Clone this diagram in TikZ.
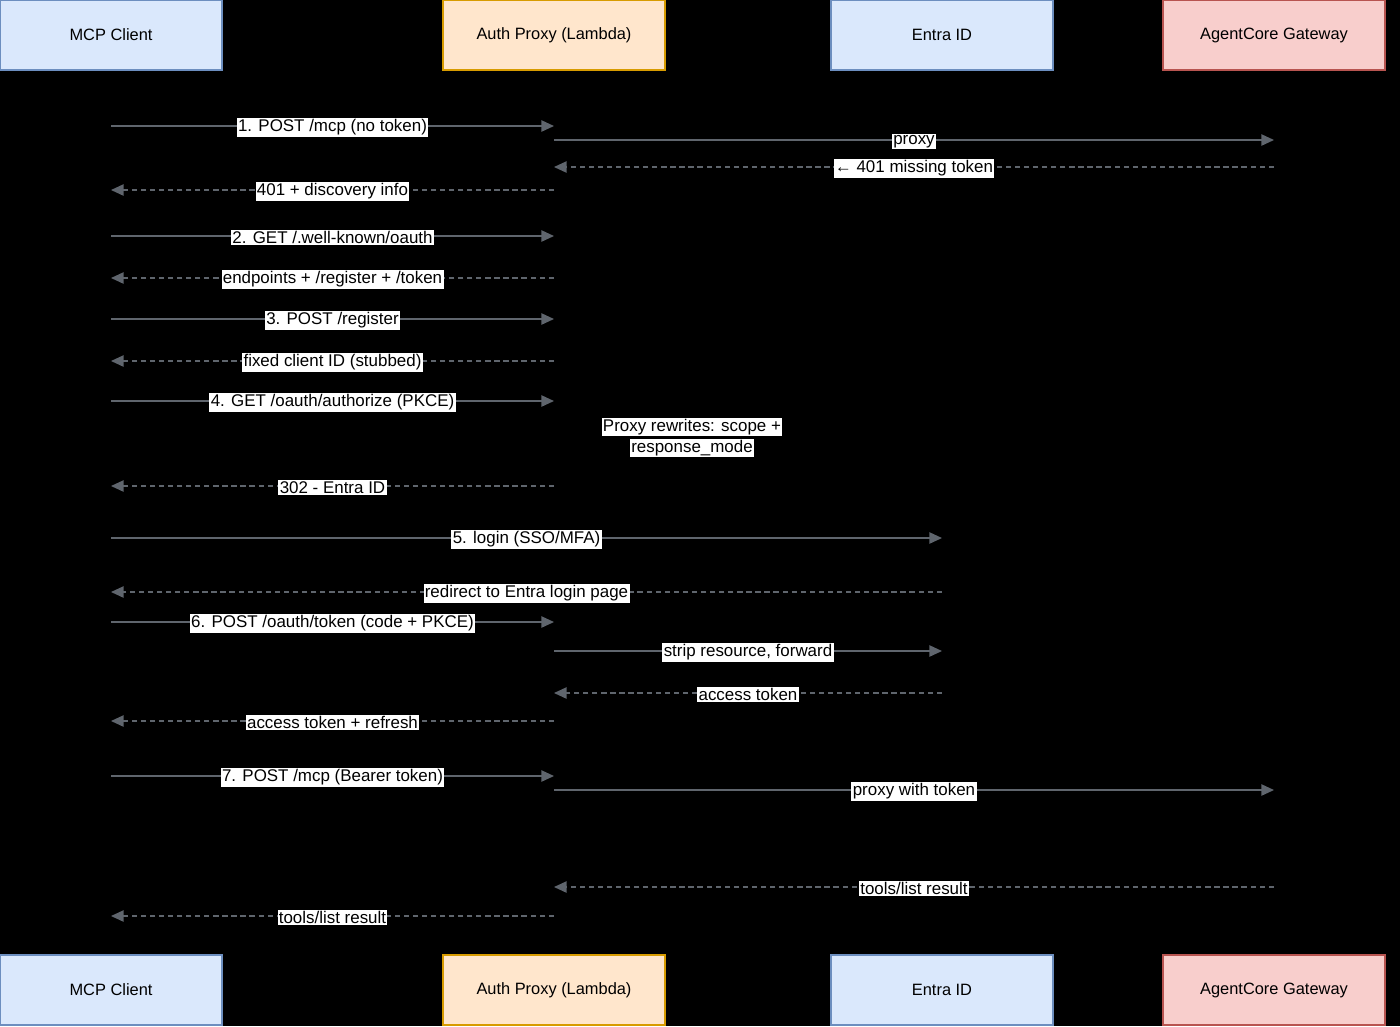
\documentclass[tikz,border=0pt]{standalone}
\usepackage{fontspec}
\setmainfont{Liberation Sans}
\usetikzlibrary{arrows.meta}
\definecolor{bluefill}{HTML}{DAE8FC}
\definecolor{bluedraw}{HTML}{6C8EBF}
\definecolor{orangefill}{HTML}{FFE6CC}
\definecolor{orangedraw}{HTML}{D79B00}
\definecolor{redfill}{HTML}{F8CECC}
\definecolor{reddraw}{HTML}{B85450}
\definecolor{msgcolor}{HTML}{5F656D}
\tikzset{
  actor/.style={draw,line width=1.1pt,minimum width=166.5pt,minimum height=52.5pt,
    font=\fontsize{12.3}{14}\selectfont},
  lbl/.style={fill=white,text=black,inner sep=1pt,font=\fontsize{12.7}{15}\selectfont},
  call/.style={msgcolor,line width=1.1pt,-{Triangle[length=9.5pt,width=8.5pt]}},
  reply/.style={call,dash pattern=on 4pt off 2.8pt}
}
% one message: style, from, y, to, label
\newcommand{\msg}[5]{\draw[#1] (#2 |- 0,#3) -- node[lbl,yshift=-1pt]{#5} (#4 |- 0,#3);}
\begin{document}
\begin{tikzpicture}[x=0.75pt,y=-0.75pt]
    \fill[black] (0,0) rectangle (1400,1026);
    \useasboundingbox (0,0) rectangle (1400,1026);

    % participants, top and bottom
    \node[actor,fill=bluefill,draw=bluedraw] (client) at (111,35) {MCP Client};
    \node[actor,fill=orangefill,draw=orangedraw] (proxy) at (554,35) {Auth Proxy (Lambda)};
    \node[actor,fill=bluefill,draw=bluedraw] (entra) at (942,35) {Entra ID};
    \node[actor,fill=redfill,draw=reddraw] (gateway) at (1274,35) {AgentCore Gateway};
    \node[actor,fill=bluefill,draw=bluedraw] (client2) at (111,990) {MCP Client};
    \node[actor,fill=orangefill,draw=orangedraw] (proxy2) at (554,990) {Auth Proxy (Lambda)};
    \node[actor,fill=bluefill,draw=bluedraw] (entra2) at (942,990) {Entra ID};
    \node[actor,fill=redfill,draw=reddraw] (gateway2) at (1274,990) {AgentCore Gateway};

    \msg{call}{client}{126}{proxy}{1. POST /mcp (no token)}
    \msg{call}{proxy}{140}{gateway}{proxy}
    \msg{reply}{gateway}{167}{proxy}{← 401 missing token}
    \msg{reply}{proxy}{190}{client}{401 + discovery info}
    \msg{call}{client}{236}{proxy}{2. GET /.well-known/oauth}
    \msg{reply}{proxy}{278}{client}{endpoints + /register + /token}
    \msg{call}{client}{319}{proxy}{3. POST /register}
    \msg{reply}{proxy}{361}{client}{fixed client ID (stubbed)}
    \msg{call}{client}{401}{proxy}{4. GET /oauth/authorize (PKCE)}
    \node[lbl] (note1) at (692,427) {Proxy rewrites: scope +};
    \node[lbl] (note2) at (692,448) {response\_mode};
    \msg{reply}{proxy}{486}{client}{302 - Entra ID}
    \msg{call}{client}{538}{entra}{5. login (SSO/MFA)}
    \msg{reply}{entra}{592}{client}{redirect to Entra login page}
    \msg{call}{client}{622}{proxy}{6. POST /oauth/token (code + PKCE)}
    \msg{call}{proxy}{651}{entra}{strip resource, forward}
    \msg{reply}{entra}{693}{proxy}{access token}
    \msg{reply}{proxy}{721}{client}{access token + refresh}
    \msg{call}{client}{776}{proxy}{7. POST /mcp (Bearer token)}
    \msg{call}{proxy}{790}{gateway}{proxy with token}
    \msg{reply}{gateway}{887}{proxy}{tools/list result}
    \msg{reply}{proxy}{916}{client}{tools/list result}
\end{tikzpicture}
\end{document}
